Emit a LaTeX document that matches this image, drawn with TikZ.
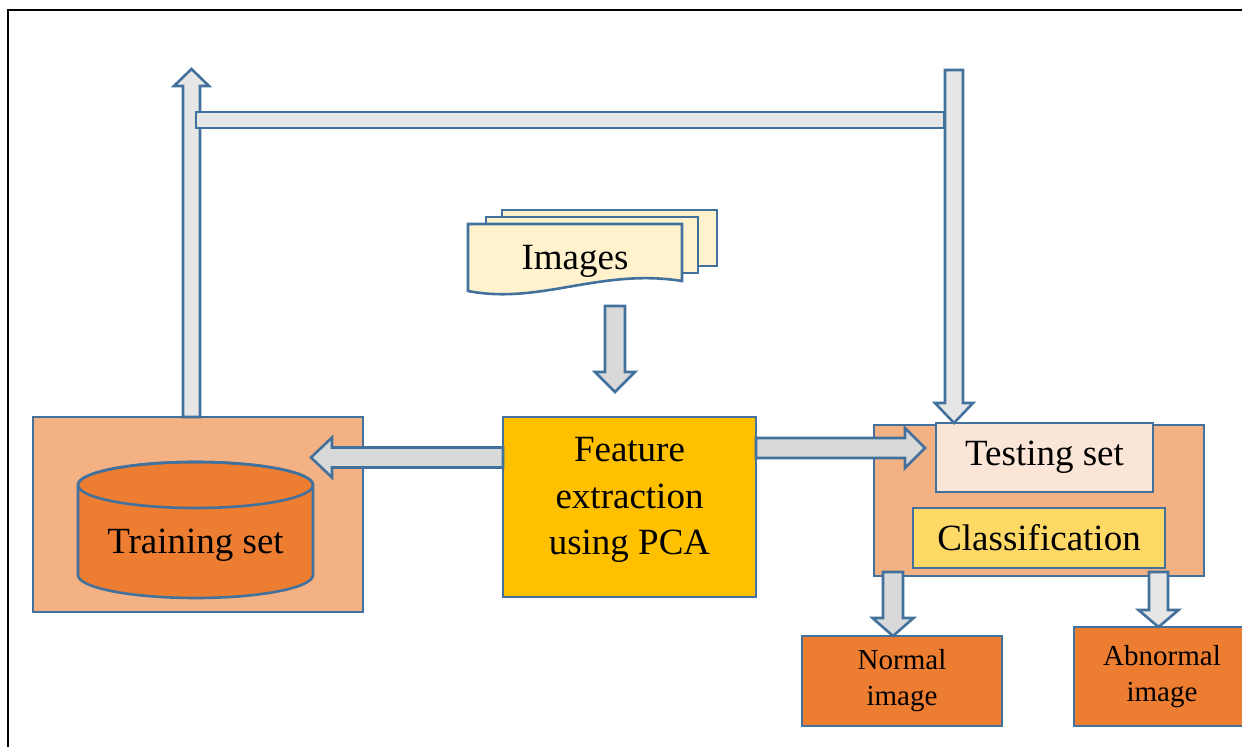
\documentclass[tikz,border=0pt]{standalone}
\usepackage{fontspec}
\setmainfont{Liberation Serif}
\usetikzlibrary{calc}

\definecolor{edge}{HTML}{41719C}
\definecolor{barfillA}{HTML}{E7E6E6}
\definecolor{barfillB}{HTML}{D9D9D9}
\definecolor{peach}{HTML}{F4B183}
\definecolor{orangebox}{HTML}{ED7D31}
\definecolor{gold}{HTML}{FFC000}
\definecolor{cream}{HTML}{FFF2CC}
\definecolor{pale}{HTML}{FBE5D6}
\definecolor{yellowbox}{HTML}{FFD966}

% block arrows: #1 style, #2 start, #3 tip, #4 shaft half width, #5 head half width, #6 head length
\newcommand\fatup[6]{\draw[#1] let \p1=(#2), \p2=(#3) in
  (\x1-#4,\y1) -- (\x1-#4,\y2-#6) -- (\x1-#5,\y2-#6) -- (\x1,\y2)
  -- (\x1+#5,\y2-#6) -- (\x1+#4,\y2-#6) -- (\x1+#4,\y1) -- cycle;}
\newcommand\fatdown[6]{\draw[#1] let \p1=(#2), \p2=(#3) in
  (\x1-#4,\y1) -- (\x1-#4,\y2+#6) -- (\x1-#5,\y2+#6) -- (\x1,\y2)
  -- (\x1+#5,\y2+#6) -- (\x1+#4,\y2+#6) -- (\x1+#4,\y1) -- cycle;}
\newcommand\fatleft[6]{\draw[#1] let \p1=(#2), \p2=(#3) in
  (\x1,\y1-#4) -- (\x2+#6,\y1-#4) -- (\x2+#6,\y1-#5) -- (\x2,\y1)
  -- (\x2+#6,\y1+#5) -- (\x2+#6,\y1+#4) -- (\x1,\y1+#4) -- cycle;}
\newcommand\fatright[6]{\draw[#1] let \p1=(#2), \p2=(#3) in
  (\x1,\y1-#4) -- (\x2-#6,\y1-#4) -- (\x2-#6,\y1-#5) -- (\x2,\y1)
  -- (\x2-#6,\y1+#5) -- (\x2-#6,\y1+#4) -- (\x1,\y1+#4) -- cycle;}

\tikzset{
  outline/.style={draw=edge, line width=1.3pt},
  box/.style={outline, rectangle, inner sep=0pt, outer sep=0pt, align=center},
  bigtext/.style={font=\fontsize{18.5}{23.25}\selectfont},
  smalltext/.style={font=\fontsize{14.5}{18}\selectfont},
  fatA/.style={outline, fill=barfillA, line join=miter},
  fatB/.style={outline, fill=barfillB, line join=miter},
  doc/.style={outline, fill=cream},
}

\begin{document}
\begin{tikzpicture}[x=0.5pt, y=-0.5pt]
\useasboundingbox (0,0) rectangle (1242,747);

% outer frame
\draw[line width=1pt] (7.5,10) rectangle (1262,770);

% training side
\node[box, fill=peach, minimum width=165pt, minimum height=97.5pt] (trainbg) at (198,514.5) {};
\draw[outline, fill=orangebox] (78,485) -- (78,575)
  arc[start angle=180, end angle=360, x radius=58.75pt, y radius=11.5pt]
  -- (313,485)
  arc[start angle=0, end angle=180, x radius=58.75pt, y radius=11.5pt] -- cycle;
\draw[outline] (195.5,485) ellipse[x radius=58.75pt, y radius=11.5pt];
\node[bigtext, inner sep=0pt] (trainset) at (195.5,545) {Training set};

% feature extraction
\node[box, fill=gold, minimum width=126.5pt, minimum height=90pt,
  label={[bigtext, align=center, yshift=3.5pt]center:Feature\\extraction\\using PCA}]
  (feat) at (629.5,507) {};

% testing side
\node[box, fill=peach, minimum width=165pt, minimum height=75.5pt] (testbg) at (1039,500.5) {};
\node[box, fill=pale, bigtext, minimum width=108.5pt, minimum height=34.5pt] (testset) at (1044.5,457.5) {Testing set};
\node[box, fill=yellowbox, bigtext, minimum width=126pt, minimum height=30pt] (cls) at (1039,538) {Classification};

% outputs
\node[box, fill=orangebox, smalltext, minimum width=100pt, minimum height=45pt] (normal) at (902,681) {Normal\\image};
\node[box, fill=orangebox, smalltext, minimum width=88pt, minimum height=49.5pt] (abnormal) at (1162,676.5) {Abnormal\\image};

% stacked image documents
\draw[doc] (502,210) rectangle (717,266);
\draw[doc] (486,217) rectangle (698,273);
\draw[doc] (468,224) -- (682,224) -- (682,281)
  .. controls (600,268) and (540,305) .. (468,291) -- cycle;
\node[bigtext, inner sep=0pt] (img) at (575,261) {Images};

% connector end points
\coordinate (upTip) at (191.5,69);
\coordinate (barTop) at (954,70);
\coordinate (imgOut) at (615,306);
\coordinate (featIn) at (615,392);
\coordinate (leftTip) at (311,457.5);
\coordinate (rightTip) at (925,448);
\coordinate (nOut) at (893,572);
\coordinate (aOut) at (1158.5,572);

% feedback loop over the top
\fatup{fatA}{trainbg.north -| upTip}{upTip}{4.25pt}{8.75pt}{8.5pt}
\draw[fatA] ($(upTip)+(4.5,43)$) rectangle ($(barTop)+(-10,58)$);
\fatdown{fatA}{barTop}{testset.north -| barTop}{4.5pt}{9.5pt}{10pt}

% main flow
\fatdown{fatB}{imgOut}{featIn}{5pt}{10pt}{10pt}
\fatleft{fatB}{feat.west |- leftTip}{leftTip}{5pt}{10pt}{10.5pt}
\fatright{fatB}{feat.east |- rightTip}{rightTip}{5pt}{10pt}{10pt}

% classification results
\fatdown{fatB}{nOut}{normal.north -| nOut}{5pt}{10.25pt}{9pt}
\fatdown{fatA}{aOut}{abnormal.north -| aOut}{4.75pt}{10pt}{8.5pt}
\end{tikzpicture}
\end{document}
